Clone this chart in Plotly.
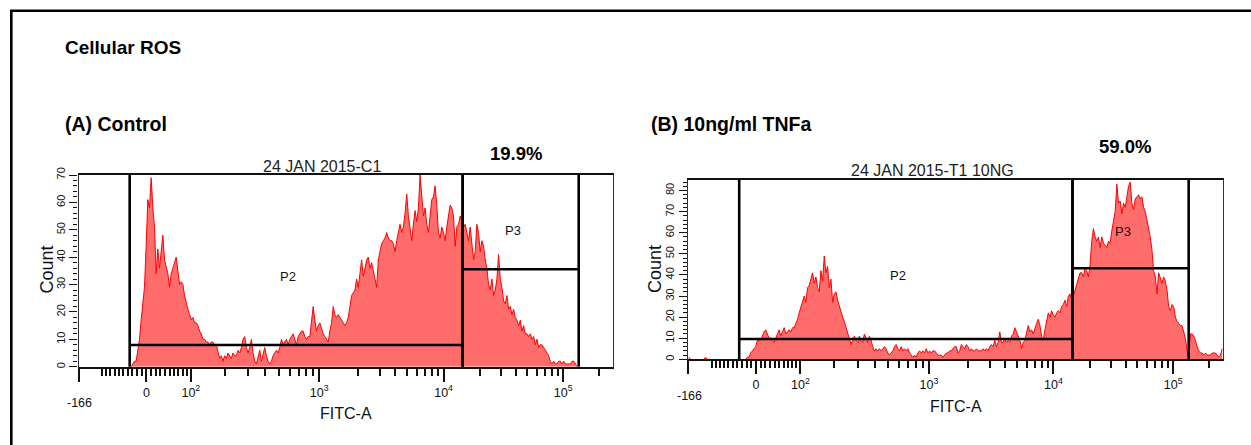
import numpy as np
import plotly.graph_objects as go

# ---------------------------------------------------------------------------
# Data: events per display channel (320 equal-width channels spanning the
# logicle-scaled FITC-A axis from -166 to 262144)
# ---------------------------------------------------------------------------
control_counts = (
    [0] * 31
    + [0, 1, 2, 2, 6, 10, 17, 23, 29, 44]
    + [61, 58, 69, 58, 51, 34, 43, 36, 42, 48]
    + [39, 36, 34, 29, 34, 36, 38, 40, 35, 30]
    + [31, 30, 26, 23, 21, 19, 17, 18, 16, 16]
    + [15, 13, 12, 10, 10, 9, 9, 8, 9, 9]
    + [8, 8, 5, 3, 4, 2, 4, 3, 5, 4]
    + [3, 5, 4, 4, 6, 5, 7, 10, 11, 7]
    + [5, 7, 10, 5, 2, 1, 4, 6, 2, 5]
    + [7, 4, 2, 1, 2, 4, 5, 6, 5, 7]
    + [10, 8, 9, 10, 8, 10, 11, 12, 10, 8]
    + [11, 12, 13, 13, 11, 10, 11, 11, 16, 22]
    + [17, 13, 15, 16, 14, 12, 11, 10, 9, 13]
    + [16, 22, 19, 18, 19, 18, 17, 16, 15, 16]
    + [18, 22, 26, 27, 28, 32, 29, 34, 39, 33]
    + [36, 39, 40, 36, 38, 35, 33, 29, 39, 42]
    + [45, 46, 47, 49, 47, 46, 46, 45, 42, 46]
    + [49, 52, 49, 51, 56, 63, 55, 50, 46, 52]
    + [57, 53, 58, 70, 63, 55, 58, 52, 49, 55]
    + [61, 62, 66, 59, 49, 47, 51, 49, 46, 51]
    + [55, 59, 58, 55, 44, 51, 52, 55, 53, 51]
    + [52, 49, 46, 51, 46, 39, 42, 52, 49, 42]
    + [46, 44, 39, 36, 30, 28, 32, 26, 28, 32]
    + [41, 32, 29, 24, 23, 26, 21, 22, 19, 21]
    + [18, 17, 15, 17, 13, 15, 12, 12, 11, 12]
    + [10, 11, 8, 10, 7, 8, 8, 7, 6, 5]
    + [4, 2, 1, 2, 1, 1, 2, 2, 1, 2]
    + [1, 1, 1, 1, 2, 2, 1, 0, 0, 0]
    + [0] * 19
)

tnf_counts = (
    [1] + [0] * 9 + [1] + [0] * 23
    + [0, 1, 1, 3, 4, 5, 6]
    + [9, 9, 9, 11, 13, 14, 12, 10, 10, 9]
    + [8, 10, 12, 14, 11, 13, 15, 12, 13, 14]
    + [13, 15, 15, 17, 19, 22, 25, 27, 30, 27]
    + [34, 35, 38, 41, 36, 39, 34, 32, 42, 37]
    + [49, 41, 44, 34, 38, 27, 31, 32, 28, 25]
    + [23, 20, 18, 15, 12, 10, 7, 9, 11, 9]
    + [8, 11, 9, 8, 12, 10, 8, 11, 9, 6]
    + [4, 5, 4, 5, 4, 5, 6, 5, 3, 2]
    + [3, 4, 6, 7, 5, 4, 6, 4, 5, 4]
    + [5, 3, 2, 1, 2, 1, 3, 4, 3, 4]
    + [3, 5, 3, 4, 3, 4, 4, 3, 2, 2]
    + [2, 1, 2, 3, 3, 4, 4, 5, 6, 6]
    + [3, 4, 7, 6, 5, 7, 6, 4, 5, 4]
    + [4, 5, 4, 4, 4, 5, 4, 5, 4, 6]
    + [7, 6, 9, 6, 8, 13, 8, 8, 10, 8]
    + [9, 8, 11, 12, 15, 13, 11, 9, 5, 8]
    + [9, 12, 16, 13, 14, 12, 15, 17, 19, 16]
    + [11, 9, 14, 18, 22, 20, 23, 21, 20, 22]
    + [23, 22, 25, 26, 28, 25, 30, 31, 28, 30]
    + [33, 36, 39, 41, 41, 39, 43, 42, 39, 45]
    + [56, 62, 58, 56, 58, 53, 58, 55, 54, 53]
    + [56, 55, 61, 66, 70, 83, 74, 75, 69, 74]
    + [72, 77, 82, 84, 74, 71, 76, 77, 78, 76]
    + [77, 72, 70, 66, 62, 58, 52, 42, 39, 31]
    + [41, 38, 36, 39, 37, 33, 25, 23, 26, 25]
    + [20, 18, 17, 16, 16, 13, 10, 4, 1, 12]
    + [12, 11, 9, 6, 4, 3, 3, 2, 3, 2]
    + [2, 2, 3, 3, 3, 2, 1, 2, 5]
)

panel_titles = ["(A) Control", "(B) 10ng/ml TNFa"]
sample_names = ["24 JAN 2015-C1", "24 JAN 2015-T1 10NG"]
p3_percent = ["19.9%", "59.0%"]
count_max = [70, 85]
count_ticks = [[0, 10, 20, 30, 40, 50, 60, 70],
               [0, 10, 20, 30, 40, 50, 60, 70, 80]]

# Histogram gates on FITC-A (same gates in both samples)
gate_names = ["P2", "P3"]
gate_bounds = [(-36, 14400), (14400, 135000)]

fitc_min, fitc_max = -166, 262144
fitc_major = [-166, 0, 100, 1000, 10000, 100000]
fitc_major_text = ["", "0", "10<sup>2</sup>", "10<sup>3</sup>", "10<sup>4</sup>", "10<sup>5</sup>"]
fitc_minor = ([-100] + list(range(-90, 0, 10)) + list(range(10, 100, 10))
              + [k * 100 for k in range(2, 10)] + [k * 1000 for k in range(2, 10)]
              + [k * 10000 for k in range(2, 10)] + [200000])

# ---------------------------------------------------------------------------
# Logicle (biexponential) display transform
# ---------------------------------------------------------------------------
T_TOP, M_DEC, W_LIN = 262144.0, 4.5, 0.576
m_nat = M_DEC * np.log(10)
w_nat = W_LIN * np.log(10)


def _solve_p(w):
    lo, hi = 1.000001, 50.0
    for _ in range(200):
        mid = 0.5 * (lo + hi)
        if 2 * mid * np.log(mid) / (mid + 1) < w:
            lo = mid
        else:
            hi = mid
    return 0.5 * (lo + hi)


p_nat = _solve_p(w_nat)


def logicle_inverse(y):
    u = np.asarray(y, float) - w_nat
    s, a = np.sign(u), np.abs(u)
    return s * T_TOP * np.exp(-(m_nat - w_nat)) * (
        np.exp(a) - p_nat ** 2 * np.exp(-a / p_nat) + p_nat ** 2 - 1)


def logicle(x):
    x = np.atleast_1d(np.asarray(x, float))
    lo = np.full(x.shape, -m_nat)
    hi = np.full(x.shape, 2 * m_nat)
    for _ in range(80):
        mid = 0.5 * (lo + hi)
        below = logicle_inverse(mid) < x
        lo = np.where(below, mid, lo)
        hi = np.where(below, hi, mid)
    return 0.5 * (lo + hi) / m_nat


x_lo, x_hi = float(logicle(fitc_min)[0]), float(logicle(fitc_max)[0])


def outline(counts):
    """Histogram outline, broken along empty stretches so it does not trace the baseline."""
    c = np.asarray(counts, float)
    nb_l = np.r_[0.0, c[:-1]]
    nb_r = np.r_[c[1:], 0.0]
    empty = (c == 0) & (nb_l == 0) & (nb_r == 0)
    return [None if e else v for e, v in zip(empty, c.tolist())]


# ---------------------------------------------------------------------------
# Layout helpers (page is 1251 x 445 px, paper spans the whole page)
# ---------------------------------------------------------------------------
W_PX, H_PX = 1251, 445


def fx(px):
    return px / W_PX


def fy(py):
    return 1 - py / H_PX


FONT = "Liberation Sans, Arial, sans-serif"
FILL = "rgb(255,108,108)"


def note(text, x, y, size, bold=False, anchor="center", angle=0, color="#111"):
    return dict(x=fx(x), y=fy(y), xref="paper", yref="paper",
                text=f"<b>{text}</b>" if bold else text, showarrow=False,
                xanchor=anchor, yanchor="middle", textangle=angle,
                font=dict(family=FONT, size=size, color=color))


# plot boxes in page pixels: (left, right, top, bottom)
boxes = [(78.5, 613.0, 175.0, 366.7), (688.0, 1223.0, 180.0, 359.3)]
name_centres = [(321.5, 166), (932, 171)]
count_centres = [(46.5, 270), (655, 269)]

fig = go.Figure()
annotations = []
shapes = []

for k, counts in enumerate([control_counts, tnf_counts]):
    xa = "x" if k == 0 else "x2"
    ya = "y" if k == 0 else "y2"
    xname = "xaxis" if k == 0 else "xaxis2"
    yname = "yaxis" if k == 0 else "yaxis2"
    left, right, top, bottom = boxes[k]

    edges = np.linspace(x_lo, x_hi, len(counts) + 1)
    centers = 0.5 * (edges[:-1] + edges[1:])
    # filled body
    fig.add_trace(go.Scatter(
        x=centers, y=counts, xaxis=xa, yaxis=ya, mode="lines",
        line=dict(color="rgba(0,0,0,0)", width=0), fill="tozeroy",
        fillcolor=FILL, showlegend=False, hoverinfo="skip"))
    # red outline
    fig.add_trace(go.Scatter(
        x=centers, y=outline(counts), xaxis=xa, yaxis=ya, mode="lines",
        line=dict(color="#ff0000", width=1), connectgaps=False,
        showlegend=False, hoverinfo="skip"))

    fig.update_layout(**{
        xname: dict(
            domain=[fx(left), fx(right)], range=[x_lo, x_hi], anchor=ya,
            tickmode="array", tickvals=logicle(fitc_major).tolist(),
            ticktext=fitc_major_text, ticks="outside", ticklen=13,
            tickwidth=1.5, tickcolor="#111", showgrid=False, zeroline=False,
            showline=True, linecolor="#111", linewidth=2, mirror=True,
            layer="above traces",
            tickfont=dict(family=FONT, size=12.5, color="#111"),
            minor=dict(tickmode="array", tickvals=logicle(fitc_minor).tolist(),
                       ticks="outside", ticklen=7, tickwidth=1.5,
                       tickcolor="#111", showgrid=False),
            fixedrange=True, automargin=False),
        yname: dict(
            domain=[fy(bottom), fy(top)], range=[0, count_max[k]], anchor=xa,
            tickmode="array", tickvals=count_ticks[k], ticks="outside",
            ticklen=8, tickwidth=1.3, tickcolor="#111", tickangle=-90,
            showgrid=False, zeroline=False, showline=True, linecolor="#333",
            linewidth=1.3, mirror=True, layer="above traces",
            tickfont=dict(family=FONT, size=11, color="#111"),
            minor=dict(tickmode="array",
                       tickvals=list(range(0, count_max[k] + 1, 2)),
                       ticks="outside", ticklen=4, tickwidth=1.2,
                       tickcolor="#111", showgrid=False),
            fixedrange=True, automargin=False),
    })

    # gates: full-height boundaries with a horizontal bar
    for name, (g0, g1), level, lab_y in zip(
            gate_names, gate_bounds, [0.113, 0.508], [0.47, 0.71]):
        a, b = logicle([g0, g1])
        for xv in (a, b):
            shapes.append(dict(type="line", xref=xa, yref=f"{ya} domain",
                               x0=xv, x1=xv, y0=0, y1=1,
                               line=dict(color="black", width=2.6)))
        shapes.append(dict(type="line", xref=xa, yref=f"{ya} domain",
                           x0=a, x1=b, y0=level, y1=level,
                           line=dict(color="black", width=2.6)))
        annotations.append(dict(
            x=0.5 * (a + b), y=lab_y, xref=xa, yref=f"{ya} domain",
            text=name, showarrow=False, xshift=-8,
            xanchor="center", yanchor="middle",
            font=dict(family=FONT, size=13, color="#111")))

    # axis captions and sample name
    annotations.append(note("-166", left + 1, bottom + 36.5, 12.5))
    annotations.append(note("FITC-A", 0.5 * (left + right), bottom + 47, 16))
    annotations.append(note("Count", *count_centres[k], 18, angle=-90))
    annotations.append(note(sample_names[k], *name_centres[k], 16, color="#222"))

# headings
annotations += [
    note("Cellular ROS", 63, 48, 19, bold=True, anchor="left", color="black"),
    note(panel_titles[0], 63, 124, 19.5, bold=True, anchor="left", color="black"),
    note(panel_titles[1], 649, 124, 19.5, bold=True, anchor="left", color="black"),
    note(p3_percent[0], 516, 153, 18.5, bold=True, color="black"),
    note(p3_percent[1], 1125, 146, 18.5, bold=True, color="black"),
]

# outer frame
shapes.append(dict(type="rect", xref="paper", yref="paper",
                   x0=fx(11.3), x1=fx(1265), y0=fy(10.7), y1=fy(460),
                   line=dict(color="black", width=2.6)))

fig.update_layout(
    width=W_PX, height=H_PX, autosize=False,
    margin=dict(l=0, r=0, t=0, b=0),
    paper_bgcolor="white", plot_bgcolor="white",
    annotations=annotations, shapes=shapes, showlegend=False,
)

fig.write_html("out.html", config={"displayModeBar": False})
